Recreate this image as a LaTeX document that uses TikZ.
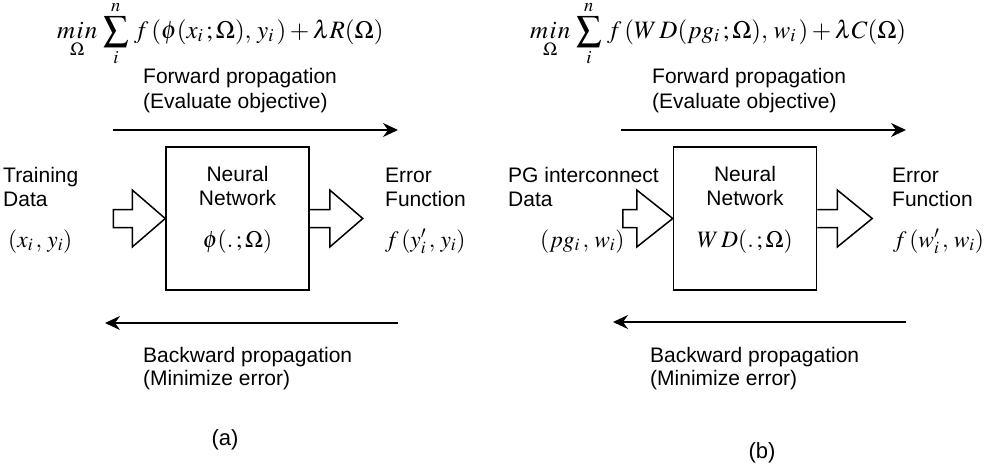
\documentclass[tikz,border=0pt]{standalone}
\usepackage{mathptmx}
\usepackage{fontspec}
\setmainfont{Liberation Sans}
\usetikzlibrary{arrows.meta}
\begin{document}
\begin{tikzpicture}[x=1pt,y=-1pt,
  lbl/.style={font=\fontsize{21}{24}\selectfont, inner sep=0pt, anchor=base west},
  mth/.style={font=\fontsize{23.5}{28}\selectfont, inner sep=0pt, anchor=base west},
  objf/.style={font=\fontsize{25}{30}\selectfont, inner sep=0pt, anchor=base west},
  caplbl/.style={font=\fontsize{22}{26}\selectfont, inner sep=0pt, anchor=base},
  nnbox/.style={draw, line width=1.5pt, minimum width=143pt, minimum height=143pt, inner sep=0pt},
  blockarrow/.style={draw, line width=1.5pt, line join=miter},
  flow/.style={line width=1.5pt, -{Stealth[length=15pt,width=14pt,inset=5pt]}}]
\useasboundingbox (0,0) rectangle (991,464);

% ---------------- panel (a) ----------------
\node[objf] (obja) at (57,38) {$\displaystyle \mathop{m\mkern1mu i\mkern1mu n}\limits_{\Omega}\,\sum_{i}^{n}\, f\,(\phi(x_i\,;\Omega),\,y_i\,)+\lambda R(\Omega)$};
\node[lbl] (fwa1) at (143,83) {Forward propagation};
\node[lbl] (fwa2) at (143,108) {(Evaluate objective)};
\coordinate (fas) at (113,130);
\coordinate (fae) at (398,130);
\draw[flow] (fas) -- (fae);

\node[nnbox] (boxa) at (237.5,218.5) {};
\node[lbl, anchor=base] (nna1) at (237.5,181) {Neural};
\node[lbl, anchor=base] (nna2) at (237.5,205) {Network};
\node[mth, anchor=base] (nna3) at (237.5,247) {$\phi(.\,;\Omega)$};

\node[lbl] (tda1) at (3,182) {Training};
\node[lbl] (tda2) at (3,206) {Data};
\node[mth] (tda3) at (8,247) {$(x_i\,,\,y_i)$};

\node[lbl] (efa1) at (385,182) {Error};
\node[lbl] (efa2) at (385,206) {Function};
\node[mth] (efa3) at (385,247) {$f\,(y'_i\,,\,y_i)$};

\draw[blockarrow] (boxa.west) -- ++(-33,-28.5) -- ++(0,19.5) -- ++(-19,0) -- ++(0,18) -- ++(19,0) -- ++(0,19.5) -- cycle;
\draw[blockarrow] (boxa.east) ++(0,-9) -- ++(20,0) -- ++(0,-19.5) -- ++(33,28.5) -- ++(-33,28.5) -- ++(0,-19.5) -- ++(-20,0);

\coordinate (bas) at (398,323);
\coordinate (bae) at (105,323);
\draw[flow] (bas) -- (bae);
\node[lbl] (bwa1) at (143,362) {Backward propagation};
\node[lbl] (bwa2) at (143,385) {(Minimize error)};
\node[caplbl] (capa) at (225,445) {(a)};

% ---------------- panel (b) ----------------
\node[objf] (objb) at (530,38) {$\displaystyle \mathop{m\mkern1mu i\mkern1mu n}\limits_{\Omega}\,\sum_{i}^{n}\, f\,(W\,D(pg_i\,;\Omega),\,w_i\,)+\lambda C(\Omega)$};
\node[lbl] (fwb1) at (652,83) {Forward propagation};
\node[lbl] (fwb2) at (652,108) {(Evaluate objective)};
\coordinate (fbs) at (621,130);
\coordinate (fbe) at (906,130);
\draw[flow] (fbs) -- (fbe);

\node[nnbox] (boxb) at (745,218.5) {};
\node[lbl, anchor=base] (nnb1) at (745,181) {Neural};
\node[lbl, anchor=base] (nnb2) at (745,205) {Network};
\node[mth, anchor=base] (nnb3) at (745,247) {$W\,D(.\,;\Omega)$};

\node[lbl] (pgb1) at (508,182) {PG interconnect};
\node[lbl] (pgb2) at (508,206) {Data};
\node[mth] (pgb3) at (540,247) {$(pg_i\,,\,w_i)$};

\node[lbl] (efb1) at (892,182) {Error};
\node[lbl] (efb2) at (892,206) {Function};
\node[mth] (efb3) at (893,247) {$f\,(w'_i\,,\,w_i)$};

\draw[blockarrow] (boxb.west) -- ++(-36,-28.5) -- ++(0,19.5) -- ++(-14,0) -- ++(0,18) -- ++(14,0) -- ++(0,19.5) -- cycle;
\draw[blockarrow] (boxb.east) ++(0,-9) -- ++(20,0) -- ++(0,-19.5) -- ++(35,28.5) -- ++(-35,28.5) -- ++(0,-19.5) -- ++(-20,0);

\coordinate (bbs) at (906,322);
\coordinate (bbe) at (613,322);
\draw[flow] (bbs) -- (bbe);
\node[lbl] (bwb1) at (650,362) {Backward propagation};
\node[lbl] (bwb2) at (650,385) {(Minimize error)};
\node[caplbl] (capb) at (762,458) {(b)};
\end{tikzpicture}
\end{document}
